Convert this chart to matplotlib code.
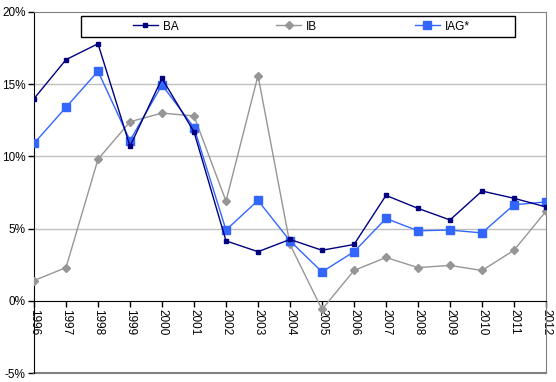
import matplotlib.pyplot as plt
from matplotlib.patches import Rectangle
from matplotlib.ticker import FuncFormatter

plt.rcParams['font.family'] = ['Liberation Sans', 'DejaVu Sans']

years = list(range(1996, 2013))
ba = [14.0, 16.7, 17.8, 10.7, 15.4, 11.7, 4.15, 3.4, 4.25, 3.5, 3.9, 7.3, 6.4, 5.6, 7.6, 7.1, 6.5]
ib = [1.4, 2.3, 9.8, 12.4, 13.0, 12.8, 6.9, 15.6, 3.9, -0.6, 2.1, 3.0, 2.3, 2.45, 2.1, 3.5, 6.2]
iag = [10.9, 13.4, 15.9, 11.1, 14.95, 12.0, 4.9, 6.95, 4.15, 2.0, 3.4, 5.7, 4.85, 4.9, 4.7, 6.65, 6.85]

fig = plt.figure(figsize=(5.56, 3.82), dpi=100)
ax = fig.add_axes([34 / 556, 9 / 382, 512 / 556, 361 / 382])

ax.plot(years, ba, color='#000080', marker='s', markersize=3.5, linewidth=1, label='BA', zorder=4)
ax.plot(years, ib, color='#969696', marker='D', markersize=4, linewidth=1, label='IB', zorder=3)
ax.plot(years, iag, color='#3366FF', marker='s', markersize=5.5, linewidth=1, label='IAG*', zorder=3)

ax.set_xlim(1996, 2012)
ax.set_ylim(-5, 20)
ax.set_yticks([-5, 0, 5, 10, 15, 20])
ax.yaxis.set_major_formatter(FuncFormatter(lambda v, p: '%d%%' % v))
ax.set_xticks(years)
ax.set_xticklabels([str(y) for y in years])

for v in [5, 10, 15]:
    ax.axhline(v, color='#c0c0c0', linewidth=1, zorder=1)

ax.spines['bottom'].set_position(('data', 0))
ax.spines['bottom'].set_color('black')
ax.spines['left'].set_color('black')
ax.spines['top'].set_color('#808080')
ax.spines['right'].set_color('#808080')
ax.axhline(-5, color='#808080', linewidth=1.5, clip_on=False, zorder=2)

ax.tick_params(axis='both', direction='out', length=4, width=1, labelsize=8.5, pad=2)
ax.tick_params(axis='x', pad=2, labelrotation=270)

# legend box drawn separately, entries placed inside it
ax.add_patch(Rectangle((47 / 512, 336 / 361), 434 / 512, 21 / 361, transform=ax.transAxes,
                       facecolor='white', edgecolor='black', linewidth=1, zorder=5))
leg = ax.legend(loc='center left', bbox_to_anchor=(99 / 512, 346.5 / 361), ncol=3, fontsize=8.5,
                frameon=False, columnspacing=8.3, handlelength=2.1, handletextpad=0.4,
                borderpad=0, borderaxespad=0)
leg.set_zorder(6)

fig.savefig('out.png', dpi=100)
